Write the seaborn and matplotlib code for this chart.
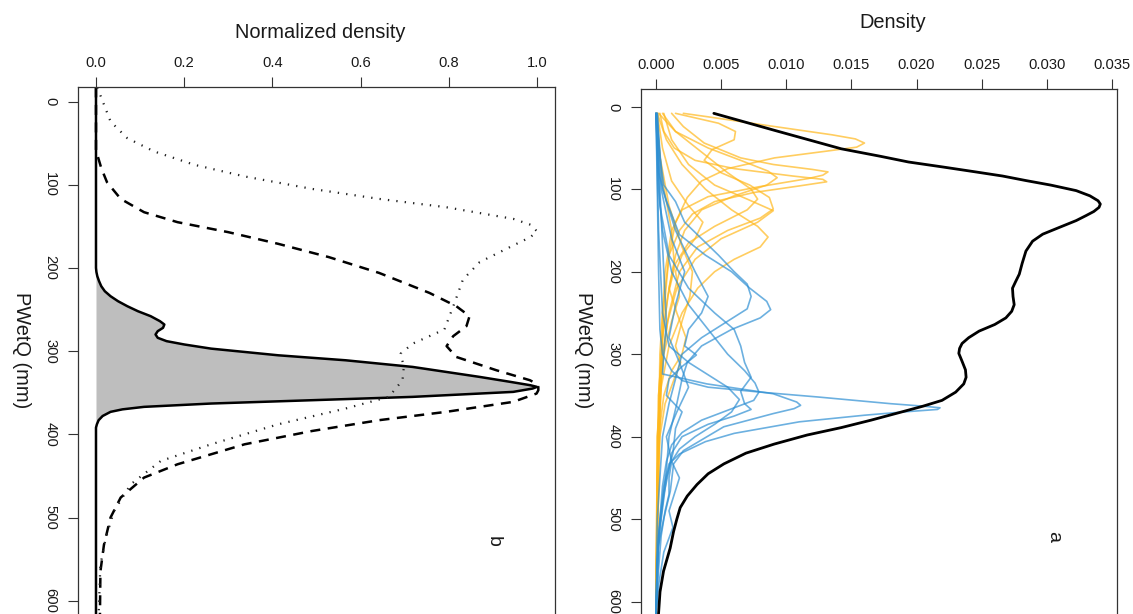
import matplotlib
matplotlib.use("Agg")
import matplotlib.pyplot as plt
import seaborn as sns
import numpy as np

sns.set_style("ticks")
plt.rcParams['font.family'] = ['Liberation Sans', 'DejaVu Sans']

# ---- panel b: normalized densities ----
pwet_solid = [-17, 100, 200, 205, 210, 216, 222, 228, 234, 240, 246, 252, 258, 264, 268, 272, 276, 280, 284, 288, 292, 297, 305, 311, 319, 331, 337, 341, 343, 345, 349, 355, 359, 363, 367, 370, 373, 378, 383, 388, 392, 500, 616]
norm_solid = [0, 0, 0, 0.001, 0.003, 0.007, 0.012, 0.02, 0.033, 0.05, 0.071, 0.095, 0.124, 0.145, 0.155, 0.152, 0.14, 0.135, 0.14, 0.16, 0.2, 0.261, 0.413, 0.566, 0.718, 0.87, 0.94, 0.985, 1.0, 0.99, 0.946, 0.718, 0.49, 0.261, 0.109, 0.06, 0.033, 0.015, 0.006, 0.002, 0, 0, 0]

pwet_dash = [-17, 60, 64, 80, 97, 117, 133, 145, 157, 171, 187, 206, 230, 246, 258, 270, 282, 294, 307, 323, 335, 339, 343, 347, 351, 361, 373, 383, 396, 412, 436, 452, 476, 500, 533, 565, 616]
norm_dash = [0, 0, 0.003, 0.012, 0.025, 0.056, 0.109, 0.185, 0.30, 0.413, 0.528, 0.642, 0.756, 0.817, 0.847, 0.84, 0.81, 0.795, 0.817, 0.908, 0.984, 0.998, 1.003, 1.003, 0.999, 0.946, 0.794, 0.642, 0.49, 0.337, 0.185, 0.109, 0.056, 0.033, 0.018, 0.010, 0.009]

pwet_dot = [-17, 24, 44, 60, 76, 90, 105, 117, 127, 141, 148, 156, 163, 173, 193, 214, 242, 274, 291, 303, 319, 335, 355, 369, 388, 412, 432, 460, 492, 525, 557, 616]
norm_dot = [0.003, 0.033, 0.071, 0.132, 0.223, 0.337, 0.49, 0.642, 0.794, 0.946, 0.985, 1.0, 0.985, 0.946, 0.87, 0.832, 0.813, 0.79, 0.718, 0.691, 0.698, 0.695, 0.664, 0.566, 0.413, 0.261, 0.147, 0.079, 0.041, 0.022, 0.010, 0.006]

# ---- panel a: densities (black = all, yellow/blue = single series, x1e-3) ----
pwet_all = [8, 18, 28.5, 40, 51, 60, 67, 73, 79, 84, 89.5, 95, 101.7, 108, 114, 118, 122, 127, 132, 138, 146, 154.5, 163, 175, 190, 203, 212, 220, 230, 240, 248, 256, 264, 272, 280, 287, 293, 299, 309, 319, 328, 336, 346, 356, 363, 370, 380, 389, 398, 409, 420, 433, 445, 458, 472, 486, 500, 515, 535, 563, 588, 616]
dens_all = [0.00444, 0.0067, 0.00907, 0.0117, 0.01422, 0.0172, 0.01938, 0.0220, 0.02453, 0.0266, 0.02839, 0.0303, 0.03225, 0.0333, 0.03393, 0.0341, 0.034, 0.0336, 0.0330, 0.03225, 0.0310, 0.02968, 0.0289, 0.02839, 0.0281, 0.02788, 0.0276, 0.02736, 0.0274, 0.02749, 0.0273, 0.02685, 0.0260, 0.0248, 0.0240, 0.02349, 0.0233, 0.02324, 0.0235, 0.02375, 0.0238, 0.02362, 0.0230, 0.02195, 0.0205, 0.01886, 0.0165, 0.01422, 0.0116, 0.00907, 0.0069, 0.00521, 0.0040, 0.00315, 0.0024, 0.00186, 0.0016, 0.00135, 0.00109, 0.00058, 0.00031, 0.00019]

yellow_curves = [
    ([8, 12, 24, 34, 39, 44, 49, 54, 62, 75, 90, 110, 140, 180, 250, 350, 450, 615],
     [2.1, 3.9, 9.1, 13.5, 15.3, 16.0, 15.4, 13.0, 9.1, 5.5, 3.5, 2.4, 1.5, 1.0, 0.6, 0.3, 0.1, 0]),
    ([8, 24, 44, 62, 70, 76, 79, 83, 87, 97, 109, 125, 150, 200, 300, 615],
     [1.2, 2.1, 3.7, 6.5, 9.0, 12.0, 13.2, 12.8, 11.7, 7.9, 4.0, 2.0, 1.2, 0.7, 0.3, 0]),
    ([8, 30, 50, 65, 75, 84, 88, 91, 96, 104, 115, 130, 150, 180, 250, 615],
     [0.3, 0.6, 1.4, 3.0, 6.0, 10.5, 12.8, 13.1, 11.0, 7.5, 4.5, 2.8, 1.8, 1.0, 0.5, 0]),
    ([8, 20, 30, 40, 52, 65, 80, 95, 110, 124, 135, 150, 170, 200, 250, 300, 400, 615],
     [1.5, 4.8, 6.1, 6.0, 4.3, 3.7, 5.0, 7.2, 8.7, 9.0, 8.0, 5.5, 3.2, 1.8, 1.0, 0.5, 0.2, 0]),
    ([8, 30, 50, 65, 78, 86, 95, 108, 125, 150, 180, 220, 280, 350, 615],
     [0.2, 1.5, 4.0, 6.5, 8.6, 9.3, 8.5, 6.0, 3.5, 2.2, 1.5, 1.0, 0.5, 0.2, 0]),
    ([8, 40, 70, 100, 125, 145, 158, 170, 185, 200, 220, 250, 290, 340, 400, 615],
     [0.1, 0.8, 2.0, 3.8, 5.8, 7.8, 8.6, 8.0, 6.0, 4.5, 3.2, 2.0, 1.0, 0.4, 0.1, 0]),
    ([8, 30, 55, 80, 100, 112, 125, 145, 165, 190, 230, 280, 350, 615],
     [0.5, 1.5, 3.5, 5.5, 7.3, 7.8, 7.0, 4.5, 2.5, 1.5, 0.9, 0.5, 0.2, 0]),
    ([8, 50, 90, 120, 140, 160, 180, 200, 230, 260, 300, 350, 615],
     [0.1, 0.5, 1.2, 2.5, 3.6, 3.0, 2.0, 1.5, 1.8, 1.2, 0.6, 0.3, 0]),
    ([8, 60, 120, 170, 200, 230, 260, 290, 310, 330, 360, 400, 450, 615],
     [0.0, 0.3, 1.0, 2.0, 2.8, 2.6, 2.0, 1.5, 1.9, 1.4, 0.7, 0.3, 0.1, 0]),
    ([8, 80, 150, 190, 220, 250, 280, 300, 320, 350, 400, 615],
     [0.05, 0.4, 1.2, 1.4, 1.0, 1.6, 2.3, 2.0, 1.2, 0.6, 0.2, 0]),
    ([8, 40, 70, 95, 112, 126, 140, 160, 185, 220, 260, 320, 400, 615],
     [0.6, 1.2, 2.5, 4.5, 7.0, 9.0, 7.8, 5.0, 3.0, 1.6, 0.9, 0.4, 0.1, 0]),
]

blue_curves = [
    ([8, 100, 200, 270, 300, 320, 332, 340, 346, 352, 360, 363, 365, 367, 370, 374, 382, 396, 406, 421, 433, 460, 500, 550, 615],
     [0, 0.1, 0.2, 0.3, 0.5, 1.2, 2.0, 4.0, 8.0, 12.5, 18.0, 20.5, 21.8, 21.6, 19.0, 16.0, 11.0, 6.0, 3.8, 1.8, 1.0, 0.6, 0.3, 0.1, 0]),
    ([8, 100, 200, 260, 300, 324, 336, 348, 358, 362, 366, 372, 388, 417, 433, 466, 499, 531, 615],
     [0.1, 0.3, 0.6, 0.8, 0.6, 0.5, 3.9, 9.0, 10.8, 11.1, 10.6, 9.0, 5.2, 2.1, 1.35, 1.1, 0.6, 0.2, 0]),
    ([8, 60, 95, 115, 140, 160, 180, 200, 215, 230, 245, 260, 280, 300, 330, 360, 400, 450, 500, 615],
     [0.05, 0.3, 0.6, 1.5, 2.2, 3.5, 4.8, 6.0, 7.0, 7.3, 7.0, 5.5, 3.5, 2.0, 1.5, 1.0, 0.5, 0.3, 0.1, 0]),
    ([8, 80, 114, 155, 180, 200, 220, 236, 246, 256, 270, 290, 310, 330, 360, 400, 440, 480, 520, 615],
     [0, 0.2, 0.8, 1.8, 3.8, 5.8, 7.2, 8.5, 8.8, 8.0, 5.8, 3.5, 2.4, 2.0, 1.6, 1.0, 0.8, 0.5, 0.2, 0]),
    ([8, 100, 150, 200, 240, 270, 300, 320, 335, 346, 356, 368, 380, 395, 410, 430, 460, 500, 550, 615],
     [0, 0.2, 0.5, 1.2, 2.5, 4.0, 5.5, 6.8, 7.6, 7.9, 7.5, 5.5, 3.5, 2.0, 1.2, 0.8, 0.5, 0.3, 0.1, 0]),
    ([8, 120, 180, 220, 250, 270, 290, 310, 328, 345, 360, 367, 375, 385, 400, 420, 440, 470, 520, 615],
     [0, 0.3, 1.0, 2.5, 4.5, 6.0, 6.5, 6.8, 7.3, 6.5, 6.8, 7.3, 6.0, 4.0, 2.0, 1.2, 1.0, 0.6, 0.2, 0]),
    ([8, 100, 150, 200, 230, 250, 270, 290, 301, 315, 330, 350, 370, 390, 420, 450, 500, 550, 615],
     [0.1, 0.5, 1.5, 3.0, 4.0, 3.5, 2.5, 2.2, 3.1, 2.0, 1.0, 0.8, 2.0, 1.5, 1.3, 0.8, 0.4, 0.1, 0]),
    ([8, 150, 250, 290, 310, 325, 340, 355, 370, 385, 400, 415, 430, 450, 470, 490, 520, 560, 615],
     [0, 0.2, 0.5, 1.0, 2.5, 4.0, 5.5, 6.4, 5.8, 4.5, 3.0, 1.8, 1.2, 1.0, 1.0, 0.7, 0.4, 0.2, 0]),
    ([8, 100, 160, 200, 240, 280, 310, 340, 370, 400, 430, 450, 470, 490, 510, 540, 580, 615],
     [0.0, 0.4, 1.2, 2.2, 1.5, 1.0, 1.8, 2.5, 1.6, 0.8, 1.2, 1.8, 1.4, 1.0, 1.3, 0.6, 0.2, 0]),
]

W, H = 1133, 614
fig = plt.figure(figsize=(W / 100, H / 100), dpi=100)
TXT = '#1a1a1a'


def setup(ax, xticks, xfmt, xlim, ylim):
    ax.set_xlim(*xlim)
    ax.set_ylim(*ylim)
    ax.set_xticks(xticks)
    ax.set_xticklabels([xfmt.format(v) for v in xticks])
    ax.set_yticks([0, 100, 200, 300, 400, 500, 600])
    ax.xaxis.tick_top()
    ax.tick_params(axis='x', direction='out', length=7, width=0.8, pad=5,
                   labelsize=10.6, colors='#333333', labelcolor=TXT)
    ax.tick_params(axis='y', direction='out', length=7, width=0.8, pad=8,
                   labelsize=10.6, colors='#333333', labelcolor=TXT)
    for lab in ax.get_yticklabels():
        lab.set_rotation(270)
        lab.set_va('center')
    for side in ['top', 'left', 'right']:
        ax.spines[side].set_color('#333333')
        ax.spines[side].set_linewidth(0.9)
    ax.spines['bottom'].set_visible(False)
    ax.set_xlabel('')
    ax.set_ylabel('')


# ---- left panel (b) ----
axb = fig.add_axes([78 / W, 0, 477 / W, 1 - 87 / H])
axb.fill_betweenx(pwet_solid, 0, norm_solid, color='#bebebe', lw=0)
sns.lineplot(x=norm_solid, y=pwet_solid, sort=False, estimator=None, ax=axb,
             color='black', lw=1.8)
sns.lineplot(x=norm_dash, y=pwet_dash, sort=False, estimator=None, ax=axb,
             color='black', lw=1.8, linestyle=(0, (4, 3)))
sns.lineplot(x=norm_dot, y=pwet_dot, sort=False, estimator=None, ax=axb,
             color='#222222', lw=1.6, linestyle=(0, (0.6, 3.2)))
setup(axb, [0.0, 0.2, 0.4, 0.6, 0.8, 1.0], '{:.1f}', (-0.0408, 1.0408), (616, -17.5))
axb.text(0.87, 0.1385, 'b', transform=axb.transAxes, rotation=270,
         ha='center', va='center', fontsize=14, color=TXT)

# ---- right panel (a) ----
axa = fig.add_axes([641 / W, 0, 476 / W, 1 - 88.6 / H])
for pw, d in yellow_curves:
    sns.lineplot(x=np.array(d) / 1000, y=pw, sort=False, estimator=None, ax=axa,
                 color='#FFB81C', alpha=0.7, lw=1.2)
for pw, d in blue_curves:
    sns.lineplot(x=np.array(d) / 1000, y=pw, sort=False, estimator=None, ax=axa,
                 color='#2E8FD3', alpha=0.7, lw=1.2)
sns.lineplot(x=dens_all, y=pwet_all, sort=False, estimator=None, ax=axa,
             color='black', lw=2)
setup(axa, [0.0, 0.005, 0.01, 0.015, 0.02, 0.025, 0.03, 0.035], '{:.3f}',
      (-0.00115, 0.03538), (615, -22))
axa.text(0.8676, 0.148, 'a', transform=axa.transAxes, rotation=270,
         ha='center', va='center', fontsize=14, color=TXT)

# axis titles
fig.text(320 / W, 1 - 32 / H, 'Normalized density', ha='center', va='center',
         fontsize=14.4, color=TXT)
fig.text(893 / W, 1 - 23 / H, 'Density', ha='center', va='center',
         fontsize=14.4, color=TXT)
fig.text(21 / W, 1 - 350 / H, 'PWetQ (mm)', rotation=270, ha='center',
         va='center', fontsize=14.4, color=TXT)
fig.text(584 / W, 1 - 350 / H, 'PWetQ (mm)', rotation=270, ha='center',
         va='center', fontsize=14.4, color=TXT)

fig.savefig('out.png', dpi=100)
